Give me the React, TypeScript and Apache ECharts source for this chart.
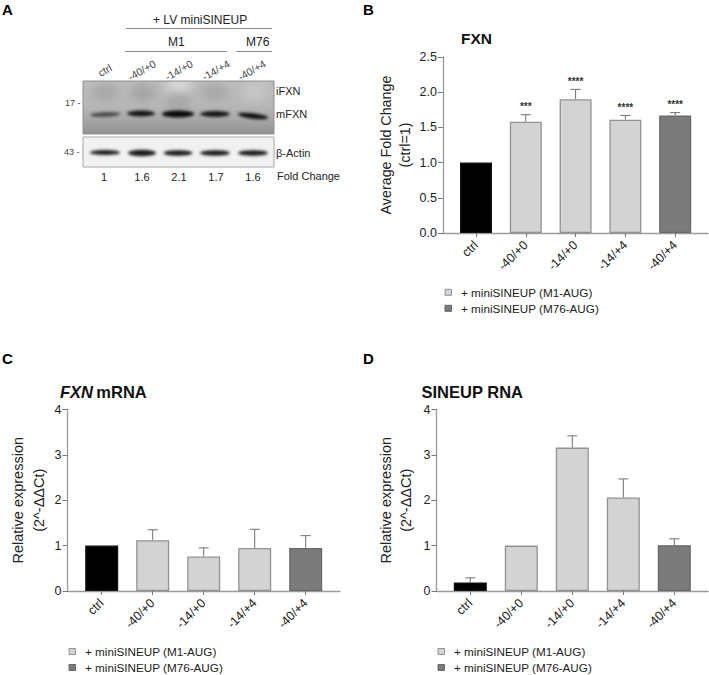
import React, { useEffect, useRef } from "react";
import * as echarts from "echarts";

const FONT = '"Liberation Sans", Arial, sans-serif';
const categories = ["ctrl", "-40/+0", "-14/+0", "-14/+4", "-40/+4"];
const kinds = ["ctrl", "m1", "m1", "m1", "m76"];

const fxnValues = [1.0, 1.58, 1.9, 1.61, 1.67];
const fxnUpper = [null, 1.68, 2.04, 1.67, 1.71];
const fxnStars = ["", "***", "****", "****", "****"];

const mrnaValues = [1.0, 1.12, 0.76, 0.95, 0.95];
const mrnaUpper = [null, 1.35, 0.95, 1.36, 1.22];

const sineupValues = [0.19, 1.0, 3.16, 2.06, 1.01];
const sineupUpper = [0.29, null, 3.42, 2.47, 1.15];

const foldChange = ["1", "1.6", "2.1", "1.7", "1.6"];
const laneLabels = ["ctrl", "-40/+0", "-14/+0", "-14/+4", "-40/+4"];
const legendLabels = ["+ miniSINEUP (M1-AUG)", "+ miniSINEUP (M76-AUG)"];

const fills: Record<string, string> = { ctrl: "#000000", m1: "#d3d3d3", m76: "#7b7b7b" };
const borders: Record<string, string> = { ctrl: "#111111", m1: "#929292", m76: "#686868" };

function makeBlot(kind: "top" | "bottom"): string {
  const w = 191;
  const h = kind === "top" ? 53 : 30;
  const c = document.createElement("canvas");
  c.width = w;
  c.height = h;
  const ctx = c.getContext("2d") as CanvasRenderingContext2D;
  if (kind === "top") {
    const g = ctx.createLinearGradient(0, 0, 0, h);
    g.addColorStop(0, "#bcbcbc");
    g.addColorStop(0.45, "#b8b8b8");
    g.addColorStop(0.75, "#a6a6a6");
    g.addColorStop(1, "#909090");
    ctx.fillStyle = g;
    ctx.fillRect(0, 0, w, h);
    ctx.filter = "blur(4px)";
    [[22, 12, "#a8a8a8"], [60, 12, "#a5a5a5"], [96, 4, "#d6d6d6"], [132, 12, "#a8a8a8"], [172, 10, "#c6c6c6"], [96, 22, "#a8a8a8"]].forEach(
      ([x, y, col]) => {
        ctx.fillStyle = col as string;
        ctx.beginPath();
        ctx.ellipse(x as number, y as number, 13, 9, 0, 0, Math.PI * 2);
        ctx.fill();
      }
    );
    ctx.filter = "blur(1.5px)";
    const bands: [number, number, number, number, number, string][] = [
      [22, 33.5, 15, 2.2, -0.04, "#454545"],
      [58, 32.5, 14, 2.9, 0, "#141414"],
      [95, 33, 16, 3.4, 0, "#0a0a0a"],
      [132, 33, 15, 2.9, 0, "#161616"],
      [170, 35, 15, 2.7, 0.12, "#111111"],
    ];
    bands.forEach(([x, y, rx, ry, r, col]) => {
      ctx.fillStyle = col;
      ctx.beginPath();
      ctx.ellipse(x, y, rx, ry, r, 0, Math.PI * 2);
      ctx.fill();
    });
  } else {
    ctx.fillStyle = "#f1f1f1";
    ctx.fillRect(0, 0, w, h);
    ctx.filter = "blur(1.5px)";
    [[22, 15.5, 15, 2.6], [59, 16, 14, 3.2], [95, 16, 14.5, 2.8], [132, 16, 15, 2.8], [170, 16, 15, 2.8]].forEach(([x, y, rx, ry]) => {
      ctx.fillStyle = "#1a1a1a";
      ctx.beginPath();
      ctx.ellipse(x, y, rx, ry, 0, 0, Math.PI * 2);
      ctx.fill();
    });
  }
  return c.toDataURL("image/png");
}

type Panel = {
  left: number; top: number; width: number; height: number; c0: number; step: number; barWidth: number;
  max: number; interval: number; decimals: number; name: string; nameGap: number; nameSize: number; nameLine: number;
  values: number[]; upper: (number | null)[]; stars?: string[];
};

const panels: Panel[] = [
  { left: 443, top: 57, width: 265, height: 176, c0: 476, step: 49.8, barWidth: 32, max: 2.5, interval: 0.5, decimals: 1,
    name: "Average Fold Change\n(ctrl=1)", nameGap: 29, nameSize: 14.3, nameLine: 19, values: fxnValues, upper: fxnUpper, stars: fxnStars },
  { left: 67.5, top: 409.5, width: 272.5, height: 181.5, c0: 101.7, step: 51, barWidth: 33, max: 4, interval: 1, decimals: 0,
    name: "Relative expression\n(2^-ΔΔCt)", nameGap: 18.5, nameSize: 14.5, nameLine: 20.5, values: mrnaValues, upper: mrnaUpper },
  { left: 436.5, top: 409.5, width: 271.5, height: 181.5, c0: 470.3, step: 51, barWidth: 33, max: 4, interval: 1, decimals: 0,
    name: "Relative expression\n(2^-ΔΔCt)", nameGap: 20, nameSize: 14.5, nameLine: 20.5, values: sineupValues, upper: sineupUpper },
];

const txt = (x: number, y: number, text: string, fontSize: number, extra: any = {}) => ({
  type: "text", x, y, silent: true, ...extra.el,
  style: { text, fontSize, fontFamily: FONT, fill: "#222", verticalAlign: "middle", ...extra.style },
});
const rule = (x1: number, x2: number, y: number) => ({
  type: "line", silent: true, shape: { x1, y1: y, x2, y2: y }, style: { stroke: "#8c8c8c", lineWidth: 1 },
});

function legendBlock(x: number, y: number) {
  const out: any[] = [];
  legendLabels.forEach((label, i) => {
    const yy = y + i * 16;
    out.push({ type: "rect", silent: true, shape: { x, y: yy - 3, width: 6.5, height: 6 },
      style: { fill: i === 0 ? fills.m1 : fills.m76, stroke: i === 0 ? borders.m1 : borders.m76, lineWidth: 1 } });
    out.push(txt(x + 16, yy, label, 11.7));
  });
  return out;
}

export default function App() {
  const ref = useRef<HTMLDivElement>(null);
  useEffect(() => {
    const chart = echarts.init(ref.current as HTMLDivElement, undefined, { renderer: "svg" });
    const grid = panels.map((p) => ({ left: p.left, top: p.top, width: p.width, height: p.height, containLabel: false }));
    const xAxis = panels.map((p, i) => ({
      type: "value", gridIndex: i,
      min: (p.left - p.c0) / p.step,
      max: (p.left + p.width - p.c0) / p.step,
      splitLine: { show: false },
      axisLine: { show: true, onZero: false, lineStyle: { color: "#9a9a9a", width: 1.3 } },
      axisTick: { show: true, length: 4, customValues: [0, 1, 2, 3, 4], lineStyle: { color: "#777", width: 1 } },
      axisLabel: {
        customValues: [0, 1, 2, 3, 4], rotate: 45, margin: 10, fontSize: 12.5, fontFamily: FONT, color: "#222",
        formatter: (v: number) => categories[v],
      },
    }));
    const yAxis = panels.map((p, i) => ({
      type: "value", gridIndex: i, min: 0, max: p.max, interval: p.interval,
      name: p.name, nameLocation: "middle", nameRotate: 90, nameGap: p.nameGap,
      nameTextStyle: { fontSize: p.nameSize, fontFamily: FONT, color: "#222", lineHeight: p.nameLine },
      splitLine: { show: false },
      axisLine: { show: true, onZero: false, lineStyle: { color: "#9a9a9a", width: 1.3 } },
      axisTick: { show: true, length: 5, lineStyle: { color: "#777", width: 1 } },
      axisLabel: { margin: 6, fontSize: 12.5, fontFamily: FONT, color: "#222",
        formatter: (v: number) => v.toFixed(p.decimals) },
    }));
    const series: any[] = [];
    panels.forEach((p, i) => {
      series.push({
        type: "bar", xAxisIndex: i, yAxisIndex: i, barWidth: p.barWidth, z: 3,
        data: p.values.map((v, k) => ({
          value: [k, v],
          itemStyle: { color: fills[kinds[k]], borderColor: borders[kinds[k]], borderWidth: 1.3 },
        })),
      });
      series.push({
        type: "custom", xAxisIndex: i, yAxisIndex: i, z: 2,
        data: p.values.map((v, k) => [k, v, p.upper[k] ?? v]),
        encode: { x: 0, y: 2 },
        renderItem: (params: any, api: any) => {
          const k = api.value(0);
          const [x, y0] = api.coord([k, api.value(1)]);
          const [, y1] = api.coord([k, api.value(2)]);
          const children: any[] = [];
          if (y1 < y0 - 0.5) {
            const st = { stroke: "#6f6f6f", lineWidth: 1 };
            children.push({ type: "line", shape: { x1: x, y1: y0, x2: x, y2: y1 }, style: st });
            children.push({ type: "line", shape: { x1: x - 5, y1, x2: x + 5, y2: y1 }, style: st });
          }
          const star = p.stars ? p.stars[params.dataIndex] : "";
          if (star) {
            children.push({ type: "text", x, y: y1 - 8,
              style: { text: star, fontSize: 10, fontFamily: FONT, fontWeight: "bold", fill: "#333", align: "center", verticalAlign: "middle" } });
          }
          return { type: "group", children };
        },
      });
    });
    const laneX = [105, 142, 179, 216, 252];
    const numX = [104, 142, 179, 216, 253];
    const graphic: any[] = [
      txt(2, 9, "A", 15, { style: { fontWeight: "bold", fill: "#000" } }),
      txt(363, 9, "B", 15, { style: { fontWeight: "bold", fill: "#000" } }),
      txt(2, 358, "C", 15, { style: { fontWeight: "bold", fill: "#000" } }),
      txt(363, 358, "D", 15, { style: { fontWeight: "bold", fill: "#000" } }),
      txt(153, 20, "+ LV miniSINEUP", 12),
      rule(126, 272, 28.5),
      txt(168, 42, "M1", 12),
      rule(125, 227, 51.5),
      txt(246, 42, "M76", 12),
      rule(236, 272, 51.5),
      ...laneLabels.map((t, i) => ({
        type: "text", x: laneX[i], y: 70.5, rotation: (30 * Math.PI) / 180, silent: true,
        style: { text: t, fontSize: 10.5, fontFamily: FONT, fill: "#444", align: "center", verticalAlign: "middle" },
      })),
      { type: "image", silent: true, x: 83, y: 81, style: { image: makeBlot("top"), x: 0, y: 0, width: 191, height: 53 } },
      { type: "rect", silent: true, shape: { x: 83, y: 81, width: 191, height: 53 }, style: { fill: "none", stroke: "#8f8f8f", lineWidth: 1 } },
      { type: "image", silent: true, x: 83, y: 137, style: { image: makeBlot("bottom"), x: 0, y: 0, width: 191, height: 30 } },
      { type: "rect", silent: true, shape: { x: 83, y: 137, width: 191, height: 30 }, style: { fill: "none", stroke: "#a8a8a8", lineWidth: 1 } },
      txt(65, 103, "17 -", 9, { style: { fill: "#444" } }),
      txt(64, 152, "43 -", 9, { style: { fill: "#444" } }),
      txt(276, 91, "iFXN", 11),
      txt(276, 114, "mFXN", 11),
      txt(276, 153, "β-Actin", 11),
      txt(277, 176, "Fold Change", 11),
      ...foldChange.map((t, i) => ({
        type: "text", x: numX[i], y: 177, silent: true,
        style: { text: t, fontSize: 11, fontFamily: FONT, fill: "#222", align: "center", verticalAlign: "middle" },
      })),
      txt(461, 38.5, "FXN", 15.5, { style: { fontWeight: "bold", fill: "#111" } }),
      {
        type: "text", x: 60, y: 392, silent: true,
        style: {
          text: "{i|FXN} {b|mRNA}", fontFamily: FONT, verticalAlign: "middle", fill: "#111",
          rich: {
            i: { fontSize: 16.5, fontWeight: "bold", fontStyle: "italic", fontFamily: FONT, fill: "#111" },
            b: { fontSize: 16.5, fontWeight: "bold", fontFamily: FONT, fill: "#111" },
          },
        },
      },
      txt(421.5, 392, "SINEUP RNA", 16.5, { style: { fontWeight: "bold", fill: "#111" } }),
      ...legendBlock(445, 292.3),
      ...legendBlock(69, 651.5),
      ...legendBlock(438, 651.5),
    ];
    chart.setOption({ animation: false, backgroundColor: "#ffffff", tooltip: { show: false }, grid, xAxis, yAxis, series, graphic });
    return () => chart.dispose();
  }, []);
  return <div ref={ref} style={{ position: "absolute", left: 0, top: 0, width: 709, height: 675 }} />;
}
